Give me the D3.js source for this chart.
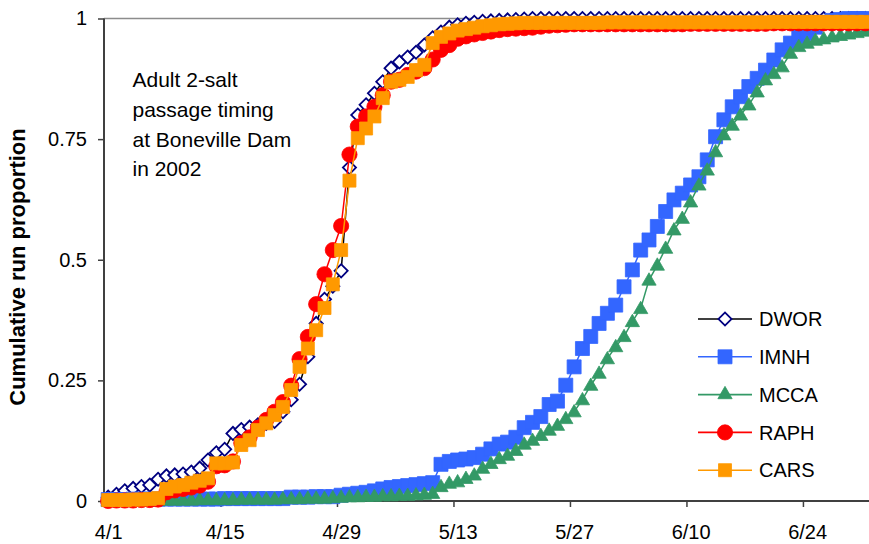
<!DOCTYPE html>
<html>
<head>
<meta charset="utf-8">
<script src="https://cdnjs.cloudflare.com/ajax/libs/d3/7.8.5/d3.min.js"></script>
<style>
  body { margin: 0; background: #fff; }
  svg { display: block; }
  text { font-family: "Liberation Sans", Arial, sans-serif; fill: #000; }
</style>
</head>
<body>
<svg id="chart" width="869" height="544"></svg>
<script>
// day index 0 = 4/1/2002, one value per day up to 7/1
var tickDays = [0, 14, 28, 42, 56, 70, 84];
var tickLabels = ["4/1", "4/15", "4/29", "5/13", "5/27", "6/10", "6/24"];
var yTicks = [0, 0.25, 0.5, 0.75, 1];
var yTickLabels = ["0", "0.25", "0.5", "0.75", "1"];
var noteLines = ["Adult 2-salt", "passage timing", "at Boneville Dam", "in 2002"];

var dwor = [
  0.008, 0.014, 0.021, 0.026, 0.030, 0.033, 0.045, 0.052, 0.054, 0.056,
  0.060, 0.068, 0.085, 0.100, 0.107, 0.140, 0.148, 0.153, 0.158, 0.161,
  0.165, 0.185, 0.210, 0.242, 0.299, 0.368, 0.418, 0.445, 0.477, 0.691,
  0.800, 0.821, 0.845, 0.869, 0.897, 0.910, 0.920, 0.930, 0.945, 0.960,
  0.972, 0.982, 0.987, 0.990, 0.992, 0.994, 0.995, 0.996, 0.997, 0.998,
  0.999, 1, 1, 1, 1, 1, 1, 1, 1, 1,
  1, 1, 1, 1, 1, 1, 1, 1, 1, 1,
  1, 1, 1, 1, 1, 1, 1, 1, 1, 1,
  1, 1, 1, 1, 1, 1, 1, 1, 1, 1,
  1, 1
];
var imnh = [
  0.003, 0.003, 0.003, 0.004, 0.004, 0.004, 0.004, 0.004, 0.004, 0.004,
  0.004, 0.004, 0.004, 0.004, 0.005, 0.005, 0.005, 0.005, 0.005, 0.005,
  0.005, 0.005, 0.008, 0.008, 0.008, 0.009, 0.009, 0.009, 0.012, 0.014,
  0.016, 0.018, 0.021, 0.025, 0.028, 0.030, 0.032, 0.034, 0.036, 0.038,
  0.076, 0.082, 0.085, 0.087, 0.090, 0.097, 0.108, 0.118, 0.122, 0.132,
  0.152, 0.163, 0.175, 0.200, 0.207, 0.240, 0.278, 0.316, 0.341, 0.368,
  0.389, 0.406, 0.444, 0.479, 0.520, 0.541, 0.569, 0.600, 0.624, 0.638,
  0.655, 0.672, 0.707, 0.755, 0.790, 0.817, 0.838, 0.859, 0.876, 0.893,
  0.914, 0.935, 0.949, 0.962, 0.969, 0.982, 0.992, 0.996, 0.998, 1.000,
  1.000, 1.000
];
var mcca = [
  0.000, 0.000, 0.000, 0.000, 0.001, 0.001, 0.001, 0.002, 0.002, 0.002,
  0.002, 0.003, 0.003, 0.003, 0.003, 0.003, 0.004, 0.004, 0.004, 0.004,
  0.004, 0.005, 0.005, 0.005, 0.006, 0.006, 0.006, 0.007, 0.008, 0.009,
  0.009, 0.010, 0.010, 0.011, 0.011, 0.012, 0.012, 0.013, 0.014, 0.016,
  0.030, 0.037, 0.040, 0.047, 0.054, 0.068, 0.078, 0.088, 0.095, 0.105,
  0.118, 0.126, 0.136, 0.147, 0.157, 0.171, 0.185, 0.210, 0.240, 0.265,
  0.295, 0.320, 0.341, 0.372, 0.399, 0.458, 0.489, 0.524, 0.562, 0.586,
  0.620, 0.655, 0.686, 0.724, 0.759, 0.779, 0.800, 0.821, 0.848, 0.873,
  0.886, 0.900, 0.928, 0.942, 0.949, 0.955, 0.958, 0.962, 0.965, 0.968,
  0.971, 0.974
];
var raph = [
  0.000, 0.001, 0.001, 0.001, 0.002, 0.002, 0.003, 0.018, 0.022, 0.025,
  0.028, 0.032, 0.040, 0.072, 0.074, 0.082, 0.120, 0.132, 0.152, 0.168,
  0.185, 0.205, 0.239, 0.294, 0.340, 0.408, 0.470, 0.520, 0.570, 0.718,
  0.776, 0.797, 0.817, 0.841, 0.869, 0.873, 0.883, 0.890, 0.897, 0.915,
  0.935, 0.945, 0.958, 0.963, 0.967, 0.970, 0.973, 0.976, 0.978, 0.979,
  0.980, 0.981, 0.983, 0.985, 0.986, 0.987, 0.988, 0.988, 0.988, 0.988,
  0.988, 0.988, 0.988, 0.988, 0.988, 0.988, 0.988, 0.988, 0.988, 0.988,
  0.989, 0.989, 0.989, 0.989, 0.989, 0.989, 0.989, 0.989, 0.989, 0.989,
  0.990, 0.990, 0.990, 0.990, 0.990, 0.990, 0.990, 0.990, 0.990, 0.990,
  0.990, 0.990
];
var cars = [
  0.002, 0.002, 0.002, 0.003, 0.003, 0.004, 0.006, 0.025, 0.030, 0.033,
  0.038, 0.042, 0.047, 0.078, 0.078, 0.080, 0.116, 0.126, 0.147, 0.161,
  0.178, 0.195, 0.230, 0.278, 0.316, 0.354, 0.400, 0.449, 0.520, 0.664,
  0.752, 0.772, 0.797, 0.835, 0.869, 0.873, 0.879, 0.893, 0.904, 0.949,
  0.962, 0.969, 0.975, 0.978, 0.981, 0.984, 0.986, 0.988, 0.989, 0.990,
  0.991, 0.991, 0.991, 0.991, 0.991, 0.991, 0.991, 0.991, 0.991, 0.991,
  0.992, 0.992, 0.992, 0.992, 0.992, 0.992, 0.992, 0.992, 0.992, 0.992,
  0.992, 0.992, 0.992, 0.992, 0.992, 0.992, 0.992, 0.992, 0.992, 0.992,
  0.993, 0.993, 0.993, 0.993, 0.993, 0.993, 0.993, 0.993, 0.993, 0.993,
  0.993, 0.993
];

var series = [
  { name: "DWOR", values: dwor, line: "#000000", color: "#000080", shape: "diamond" },
  { name: "IMNH", values: imnh, line: "#3366FF", color: "#3366FF", shape: "square", size: 14 },
  { name: "MCCA", values: mcca, line: "#339966", color: "#339966", shape: "triangle" },
  { name: "RAPH", values: raph, line: "#FF0000", color: "#FF0000", shape: "circle" },
  { name: "CARS", values: cars, line: "#FF9900", color: "#FF9900", shape: "square", size: 13 }
];

var svg = d3.select("#chart"),
    cs = {
        left: 104, right: 869.5, top: 18.5, bottom: 501,
        font: 20,
        legend: { x1: 698, x2: 752, mx: 725, tx: 759, y0: 319, step: 37.8 }
    };

var x = d3.scaleLinear().domain([0, 92]).range([cs.left, cs.right]);
var y = d3.scaleLinear().domain([0, 1]).range([cs.bottom, cs.top]);
var halfDay = (x(1) - x(0)) / 2;

// plot frame: grey top edge, dark axes
svg.append("line")
    .attr("x1", cs.left).attr("x2", cs.right)
    .attr("y1", cs.top).attr("y2", cs.top)
    .attr("stroke", "#8c8c8c").attr("stroke-width", 1.3);

var yAxis = d3.axisLeft(y).tickValues(yTicks).tickSize(6).tickPadding(11)
    .tickFormat((d, i) => yTickLabels[i]);
var gy = svg.append("g").attr("transform", "translate(" + cs.left + ",0)").call(yAxis);

var xAxis = d3.axisBottom(x).tickValues(tickDays).tickSize(6).tickPadding(18)
    .tickFormat((d, i) => tickLabels[i]);
var gx = svg.append("g").attr("transform", "translate(0," + cs.bottom + ")").call(xAxis);
gx.selectAll(".tick text").attr("dx", halfDay);

[gx, gy].forEach(g => {
    g.select(".domain").remove();
    g.selectAll(".tick line").attr("stroke", "#404040").attr("stroke-width", 1.5);
    g.selectAll(".tick text")
        .style("font-family", '"Liberation Sans", Arial, sans-serif')
        .style("font-size", cs.font + "px").attr("fill", "#000");
});

svg.append("line")
    .attr("x1", cs.left).attr("x2", cs.left).attr("y1", cs.top).attr("y2", cs.bottom + 0.5)
    .attr("stroke", "#404040").attr("stroke-width", 2);
svg.append("line")
    .attr("x1", cs.left).attr("x2", cs.right).attr("y1", cs.bottom).attr("y2", cs.bottom)
    .attr("stroke", "#404040").attr("stroke-width", 2);

svg.append("text")
    .attr("transform", "translate(25,267) rotate(-90)")
    .attr("text-anchor", "middle")
    .style("font-size", "22px").style("font-weight", "bold")
    .text("Cumulative run proportion");

svg.append("g").selectAll("text")
    .data(noteLines)
    .enter().append("text")
    .attr("x", 132.5)
    .attr("y", (d, i) => 87.3 + i * 29.6)
    .style("font-size", "21px")
    .text(d => d);

function markerPath(s) {
    if (s.shape === "circle") return d3.symbol(d3.symbolCircle, Math.PI * 7.6 * 7.6)();
    if (s.shape === "triangle") return d3.symbol(d3.symbolTriangle, 88)();
    if (s.shape === "diamond") return d3.symbol(d3.symbolSquare, 86)();
    return d3.symbol(d3.symbolSquare, s.size * s.size)();
}

function drawMarker(sel, s) {
    sel.append("path")
        .attr("d", markerPath(s))
        .attr("fill", s.shape === "diamond" ? "#fff" : s.color)
        .attr("stroke", s.color)
        .attr("stroke-width", s.shape === "diamond" ? 1.8 : 0.8);
}

var line = d3.line()
    .x((d, i) => x(i + 0.5))
    .y(d => y(d));

series.forEach(s => {
    var g = svg.append("g").attr("class", "series");
    g.append("path")
        .datum(s.values)
        .attr("fill", "none")
        .attr("stroke", s.line)
        .attr("stroke-width", 1.5)
        .attr("d", line);
    g.selectAll("g.pt")
        .data(s.values)
        .enter().append("g")
        .attr("class", "pt")
        .attr("transform", (d, i) => "translate(" + x(i + 0.5) + "," + y(d) + ")" +
            (s.shape === "diamond" ? " rotate(45)" : "") +
            (s.shape === "triangle" ? " translate(0,1)" : ""))
        .each(function () { drawMarker(d3.select(this), s); });
});

// legend
var lg = svg.append("g").selectAll("g")
    .data(series)
    .enter().append("g")
    .attr("transform", (d, i) => "translate(0," + (cs.legend.y0 + i * cs.legend.step) + ")");
lg.append("line")
    .attr("x1", cs.legend.x1).attr("x2", cs.legend.x2)
    .attr("stroke", d => d.line).attr("stroke-width", 1.6);
lg.append("g")
    .attr("transform", d => "translate(" + cs.legend.mx + ",0)" + (d.shape === "diamond" ? " rotate(45)" : ""))
    .each(function (d) { drawMarker(d3.select(this), d); });
lg.append("text")
    .attr("x", cs.legend.tx)
    .attr("dy", "0.36em")
    .style("font-size", cs.font + "px")
    .text(d => d.name);
</script>
</body>
</html>
